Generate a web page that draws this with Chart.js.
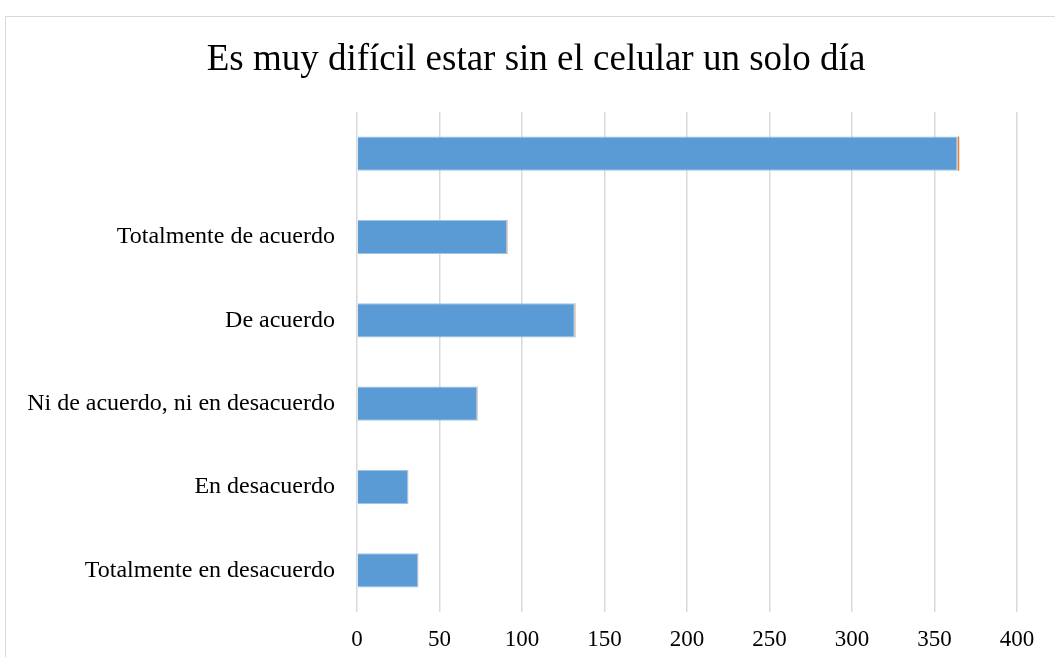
<!DOCTYPE html>
<html>
<head>
<meta charset="utf-8">
<script src="https://cdn.jsdelivr.net/npm/chart.js@4/dist/chart.umd.min.js"></script>
<style>
  html, body { margin: 0; padding: 0; background: #fff; overflow: hidden; }
  #wrap { position: relative; width: 1055px; height: 657px; }
  #frame { position: absolute; left: 5px; top: 16px; width: 1100px; height: 700px; border: 1px solid #d9d9d9; box-sizing: border-box; }
  canvas { position: absolute; left: 0; top: 0; }
</style>
</head>
<body>
<div id="wrap">
  <div id="frame"></div>
  <canvas id="c" width="1055" height="657"></canvas>
</div>
<script>
const titleText = "Es muy difícil estar sin el celular un solo día";
const categories = ["", "Totalmente de acuerdo", "De acuerdo", "Ni de acuerdo, ni en desacuerdo", "En desacuerdo", "Totalmente en desacuerdo"];
const counts = [364, 91, 132, 73, 31, 37];
const shares = [1, 0.25, 0.36, 0.2, 0.085, 0.1];
const xTicks = [0, 50, 100, 150, 200, 250, 300, 350, 400];

const serif = "'Liberation Serif', 'Times New Roman', serif";

const shiftTitle = {
  id: 'shiftTitle',
  afterLayout(chart) {
    if (chart.titleBlock) { chart.titleBlock.left = 55; chart.titleBlock.right = 1017; }
  }
};

new Chart(document.getElementById('c'), {
  type: 'bar',
  data: {
    labels: categories,
    datasets: [
      { label: 'Frecuencia', data: counts, backgroundColor: '#5b9bd5', borderColor: '#9dc3e6', borderWidth: 1, barPercentage: 0.41, categoryPercentage: 1 },
      { label: 'Porcentaje', data: shares, backgroundColor: '#ed7d31', borderColor: '#f4b183', borderWidth: 0, barPercentage: 0.41, categoryPercentage: 1 }
    ]
  },
  plugins: [shiftTitle],
  options: {
    indexAxis: 'y',
    responsive: false,
    animation: false,
    layout: { padding: { left: 0, right: 38, top: 0, bottom: 0 } },
    plugins: {
      legend: { display: false },
      tooltip: { enabled: false },
      title: {
        display: true, text: titleText, color: '#000',
        font: { family: serif, size: 37, weight: 'normal', lineHeight: 1.2 },
        padding: { top: 38, bottom: 29.6 }
      }
    },
    scales: {
      x: {
        stacked: true, min: 0, max: 400,
        afterBuildTicks: (s) => { s.ticks = xTicks.map(v => ({ value: v })); },
        grid: { color: '#d9d9d9', lineWidth: 1.5, drawTicks: false },
        border: { display: false },
        ticks: { color: '#000', font: { family: serif, size: 23 }, padding: 14 },
        afterFit: (s) => { s.height = 45; }
      },
      y: {
        stacked: true,
        grid: { display: false, drawTicks: false },
        border: { display: false },
        ticks: { color: '#000', font: { family: serif, size: 24 }, padding: 22 },
        afterFit: (s) => { s.width = 357; }
      }
    }
  }
});
</script>
</body>
</html>
